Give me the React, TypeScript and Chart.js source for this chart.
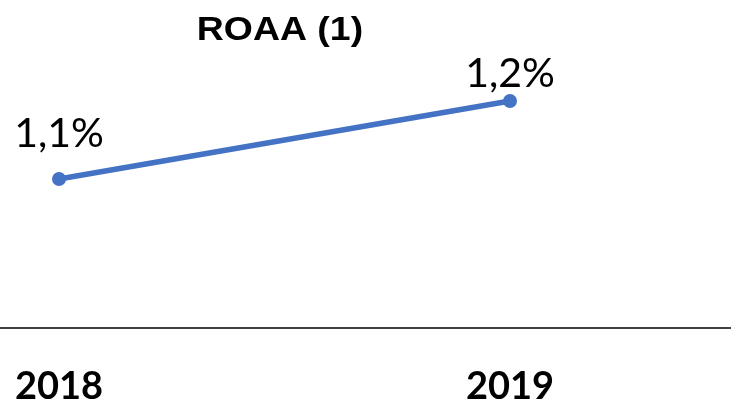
import React, { useEffect, useRef } from "react";
import { Chart, registerables } from "chart.js";

Chart.register(...registerables);

const categories = ["2018", "2019"];
const roaaValues = [1.1, 1.2];
const valueLabels = ["1,1%", "1,2%"];
const chartTitle = "ROAA (1)";

const LABEL_FONT = "Lato, 'Open Sans', sans-serif";

const decorPlugin = {
  id: "decor",
  afterDraw(chart: any, _args: any, opts: any) {
    const ctx = chart.ctx;
    const area = chart.chartArea;
    ctx.save();
    // full-width axis line
    ctx.strokeStyle = "#404040";
    ctx.lineWidth = 2;
    ctx.beginPath();
    ctx.moveTo(0, area.bottom);
    ctx.lineTo(chart.width, area.bottom);
    ctx.stroke();
    // title (slightly wide bold face)
    ctx.fillStyle = "#000";
    ctx.font = "bold 34px 'Liberation Sans', Arial, sans-serif";
    ctx.textAlign = "center";
    ctx.textBaseline = "alphabetic";
    ctx.save();
    ctx.translate(chart.width * opts.titleX, opts.titleY);
    ctx.scale(1.1, 1);
    ctx.fillText(opts.title, 0, 0);
    ctx.restore();
    // data labels
    const meta = chart.getDatasetMeta(0);
    ctx.font = "41px " + LABEL_FONT;
    meta.data.forEach((pt: any, i: number) => {
      ctx.fillText(opts.labels[i], pt.x, pt.y - opts.offsets[i]);
    });
    ctx.restore();
  },
};

export default function App() {
  const ref = useRef<HTMLCanvasElement>(null);
  useEffect(() => {
    document.body.style.margin = "0";
    const chart = new Chart(ref.current!, {
      type: "line",
      data: {
        labels: categories,
        datasets: [
          {
            data: roaaValues,
            borderColor: "#4472C4",
            backgroundColor: "#4472C4",
            borderWidth: 5.5,
            pointRadius: 7,
            pointBackgroundColor: "#4472C4",
            pointBorderWidth: 0,
            tension: 0,
            clip: false as any,
          },
        ],
      },
      options: {
        animation: false,
        responsive: false,
        layout: { autoPadding: false, padding: { left: 59, right: 221, top: 0, bottom: 0 } },
        plugins: {
          legend: { display: false },
          title: { display: false },
          tooltip: { enabled: false },
          decor: {
            title: chartTitle,
            titleX: 0.383,
            titleY: 40,
            labels: valueLabels,
            offsets: [32, 14],
          },
        } as any,
        scales: {
          x: {
            type: "category",
            offset: false,
            grid: { display: false },
            border: { display: false },
            afterFit: (scale: any) => {
              scale.height = 77;
              scale.paddingLeft = 0;
              scale.paddingRight = 0;
            },
            ticks: {
              color: "#000",
              padding: 32,
              maxRotation: 0,
              autoSkip: false,
              font: { family: LABEL_FONT, size: 38, weight: "bold", lineHeight: 1 },
            },
          },
          y: {
            display: false,
            min: 0.909,
            max: 1.3295,
          },
        },
      },
      plugins: [decorPlugin],
    });
    return () => chart.destroy();
  }, []);
  return (
    <div style={{ position: "absolute", left: 0, top: 0, width: 731, height: 405 }}>
      <canvas ref={ref} width={731} height={405} />
    </div>
  );
}
